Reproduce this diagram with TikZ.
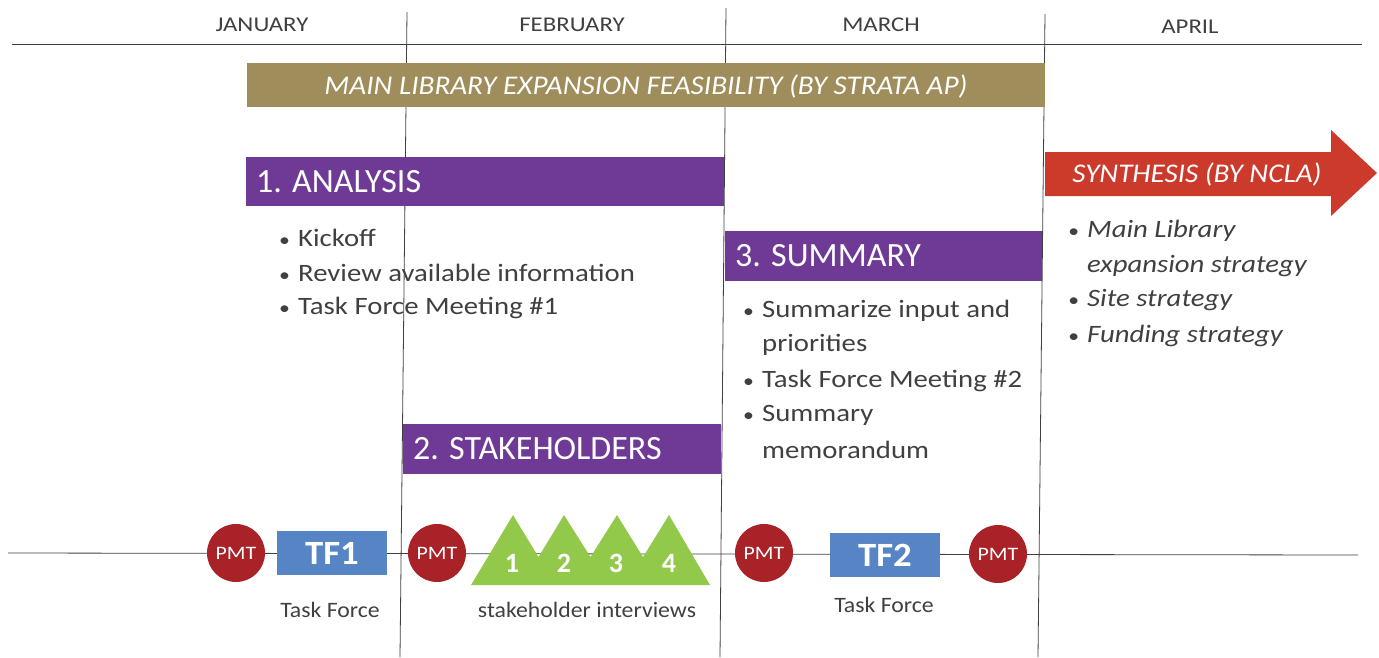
\documentclass[tikz,border=0pt]{standalone}
\usepackage{fontspec}
\setmainfont{Carlito}[FakeStretch=1.15]
\newfontfamily\headfont{Carlito}
\newfontfamily\barfont{Carlito}[FakeStretch=1.08]
\newfontfamily\monthfont{Carlito}[FakeStretch=1.18]
\definecolor{gold}{HTML}{A08D5C}
\definecolor{purp}{HTML}{6E3A96}
\definecolor{redarrow}{HTML}{CC3A2C}
\definecolor{pmtred}{HTML}{A82228}
\definecolor{tfblue}{HTML}{5684C4}
\definecolor{tgreen}{HTML}{92C94A}
\definecolor{txt}{HTML}{404040}
\newcommand{\fs}[1]{\fontsize{#1}{#1}\selectfont}
\newcommand{\bl}{\makebox[20pt][l]{\hspace*{1pt}\fs{19}•}}
\newcommand{\nb}{\hspace*{20pt}}
\tikzset{
  x=1pt, y=-1pt,
  month/.style={font=\monthfont\fs{21}, text=txt, inner sep=0pt},
  gridline/.style={draw=black!75, line width=0.8pt},
  bartext/.style={font=\headfont\fs{34}, text=white, anchor=west, inner sep=0pt},
  bul/.style={font=\fs{25}, text=txt, anchor=west, inner sep=0pt},
  ibul/.style={font=\fs{25}\itshape, text=txt, anchor=west, inner sep=0pt},
  pmt/.style={circle, fill=pmtred, minimum size=58pt, inner sep=0pt, text=white, font=\fs{19}},
  tf/.style={fill=tfblue, minimum width=110pt, minimum height=44pt, inner sep=0pt, text=white, font=\barfont\fs{34}\bfseries},
  capt/.style={font=\barfont\fs{22}, text=txt, inner sep=0pt},
  num/.style={font=\headfont\fs{28}\bfseries, text=white, inner sep=0pt},
  ital/.style={font=\barfont\fs{27}\itshape, text=white, inner sep=0pt},
}
\begin{document}
\begin{tikzpicture}
\useasboundingbox (0,0) rectangle (1379,657);
% month header
\coordinate (hl) at (12,44);
\coordinate (hr) at (1362,44);
\draw[gridline] (hl) -- (hr);
\coordinate (v1t) at (407,12); \coordinate (v1b) at (400,657);
\coordinate (v2t) at (726,8);  \coordinate (v2b) at (720,657);
\coordinate (v3t) at (1045,14); \coordinate (v3b) at (1038,657);
\draw[gridline] (v1t) -- (v1b);
\draw[gridline] (v2t) -- (v2b);
\draw[gridline] (v3t) -- (v3b);
\node[month] (jan) at (262,25) {JANUARY};
\node[month] (feb) at (572,25) {FEBRUARY};
\node[month] (mar) at (881,25) {MARCH};
\node[month] (apr) at (1190,27) {APRIL};
% feasibility bar
\fill[gold] (247,63) rectangle (1045,107);
\node[ital] (feas) at (646,86) {MAIN LIBRARY EXPANSION FEASIBILITY (BY STRATA AP)};
% analysis
\fill[purp] (246,157) rectangle (724,206);
\node[bartext] (ana) at (256,182) {1. ANALYSIS};
\node[bul] (a1) at (278,238) {\bl Kickoff};
\node[bul] (a2) at (278,273) {\bl Review available information};
\node[bul] (a3) at (278,308) {\bl Task Force Meeting \#1};
% summary
\fill[purp] (725,231) rectangle (1042,281);
\node[bartext] (sum) at (735,256) {3. SUMMARY};
\node[bul] (s1) at (742,311) {\bl Summarize input and};
\node[bul] (s2) at (742,345) {\nb priorities};
\node[bul] (s3) at (742,381) {\bl Task Force Meeting \#2};
\node[bul] (s4) at (742,415) {\bl Summary};
\node[bul] (s5) at (742,450) {\nb memorandum};
% stakeholders
\fill[purp] (403,424) rectangle (721,474);
\node[bartext] (stk) at (413,449) {2. STAKEHOLDERS};
% synthesis arrow
\fill[redarrow] (1045,152) -- (1331,152) -- (1331,130) -- (1377,173) -- (1331,216) -- (1331,196) -- (1045,196) -- cycle;
\node[ital] (syn) at (1197,174) {SYNTHESIS (BY NCLA)};
\node[ibul] (y1) at (1067,231) {\bl Main Library};
\node[ibul] (y2) at (1067,266) {\nb expansion strategy};
\node[ibul] (y3) at (1067,300) {\bl Site strategy};
\node[ibul] (y4) at (1067,336) {\bl Funding strategy};
% timeline
\coordinate (tl) at (8,553);
\coordinate (tr) at (1358,555);
\draw[gridline] (tl) -- (tr);
\node[pmt] (p1) at (236,553) {PMT};
\node[tf] (tf1) at (332,553) {TF1};
\node[pmt] (p2) at (437,553) {PMT};
\fill[tgreen] (471,585) -- (513,515) -- (538.5,557) -- (564,515) -- (590.5,557) -- (617,515) -- (643,557) -- (669,515) -- (710,585) -- cycle;
\node[num] (n1) at (512,563) {1};
\node[num] (n2) at (564,563) {2};
\node[num] (n3) at (616,563) {3};
\node[num] (n4) at (669,563) {4};
\node[pmt] (p3) at (764,553) {PMT};
\node[tf] (tf2) at (885,555) {TF2};
\node[pmt] (p4) at (998,554) {PMT};
\node[capt] (c1) at (330,610) {Task Force};
\node[capt] (c2) at (587,610) {stakeholder interviews};
\node[capt] (c3) at (884,605) {Task Force};
\end{tikzpicture}
\end{document}
